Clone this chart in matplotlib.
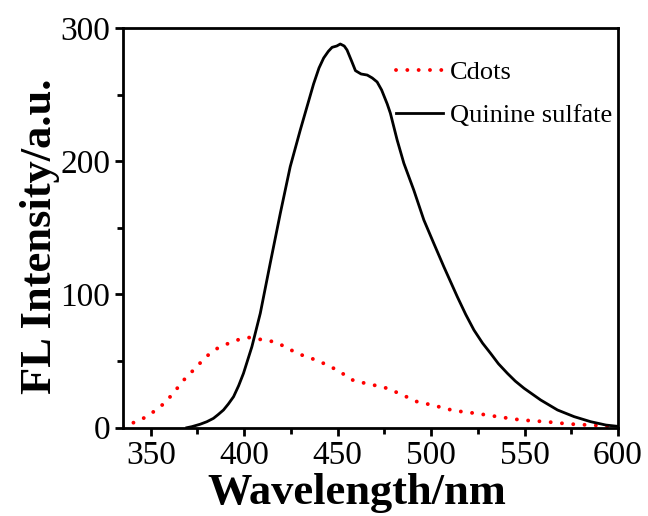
import matplotlib
matplotlib.use("Agg")
import matplotlib.pyplot as plt
from matplotlib.ticker import MultipleLocator

# Values
qs_wavelength = [369.3, 372.0, 376.4, 380.0, 383.5, 386.0, 388.9, 391.5, 394.3, 397.0,
                 399.6, 404.1, 408.6, 413.9, 419.3, 424.6, 430.0, 433.6, 437.1, 440.0,
                 442.5, 445.0, 447.0, 449.5, 451.4, 453.5, 455.0, 457.5, 459.5, 462.5,
                 465.8, 468.5, 471.1, 473.5, 476.5, 478.2, 481.8, 485.4, 490.7, 496.1,
                 501.4, 506.8, 514.0, 518.5, 522.9, 527.5, 531.8, 536.0, 540.8, 545.0,
                 549.7, 558.6, 567.6, 576.5, 585.4, 593.5, 600.0]
qs_intensity = [0.0, 0.8, 2.6, 4.5, 7.0, 9.8, 13.3, 17.8, 23.3, 31.5,
                40.8, 60.8, 85.9, 123.4, 160.9, 195.9, 223.5, 241.0, 258.0, 270.0,
                277.5, 282.5, 285.5, 286.5, 288.0, 286.5, 283.5, 275.0, 268.0, 265.5,
                264.7, 262.5, 259.5, 253.5, 243.0, 236.0, 216.0, 198.5, 178.4, 155.9,
                138.4, 120.8, 98.3, 85.0, 73.3, 63.5, 55.8, 48.0, 40.8, 35.0,
                29.6, 20.8, 13.3, 8.3, 4.5, 2.0, 1.0]

cd_wavelength = [335.0, 339.0, 345.2, 351.5, 357.7, 363.1, 368.4, 373.8, 379.2, 384.5,
                 390.7, 397.9, 403.2, 410.3, 415.7, 422.0, 428.2, 434.5, 440.7, 449.7,
                 458.6, 466.6, 469.3, 476.5, 483.6, 492.5, 500.6, 512.2, 523.8, 535.5,
                 548.0, 561.3, 573.8, 587.2, 593.5, 600.0]
cd_intensity = [1.0, 2.8, 6.3, 12.0, 18.8, 27.8, 37.0, 44.6, 52.8, 58.8,
                62.8, 66.6, 67.8, 65.8, 64.6, 60.8, 55.8, 52.8, 49.5, 43.3,
                35.3, 32.8, 32.0, 29.6, 25.3, 19.5, 17.0, 12.8, 10.8, 8.3,
                5.8, 4.5, 2.8, 1.8, 1.3, 0.8]

plt.rcParams['font.family'] = ['Liberation Serif', 'DejaVu Serif']

fig = plt.figure(figsize=(6.48, 5.16), dpi=100)
ax = fig.add_axes([0.1894, 0.1711, 0.7644, 0.7746])

cd_line, = ax.plot(cd_wavelength, cd_intensity, color='red', linewidth=2.8,
                   dash_capstyle='round', label='Cdots')
cd_line.set_dashes((0.01, 2.9))
ax.plot(qs_wavelength, qs_intensity, color='black', linewidth=2.0,
        label='Quinine sulfate')

ax.set_xlim(335, 600)
ax.set_ylim(0, 300)
ax.xaxis.set_major_locator(MultipleLocator(50))
ax.xaxis.set_minor_locator(MultipleLocator(25))
ax.yaxis.set_major_locator(MultipleLocator(100))
ax.yaxis.set_minor_locator(MultipleLocator(50))

for side in ax.spines.values():
    side.set_linewidth(2.0)
ax.tick_params(which='major', direction='out', length=6, width=2.0,
               labelsize=24, pad=3)
ax.tick_params(which='minor', direction='out', length=4, width=2.0)

ax.set_xlabel('Wavelength/nm', fontsize=32, fontweight='bold', labelpad=2)
ax.xaxis.label.set_x(0.473)
ax.set_ylabel('FL Intensity/a.u.', fontsize=32, fontweight='bold', labelpad=0)
ax.yaxis.label.set_y(0.48)

ax.legend(loc='upper left', bbox_to_anchor=(0.53, 0.945), frameon=False,
          fontsize=19, handlelength=1.8, handletextpad=0.25, labelspacing=0.75,
          borderaxespad=0)

fig.savefig('out.png', dpi=100)
